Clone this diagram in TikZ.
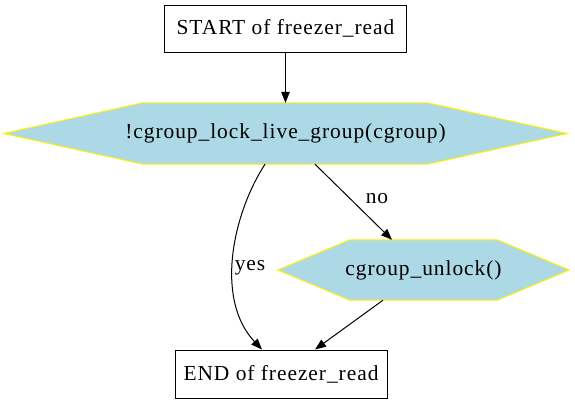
\documentclass[tikz,border=0pt]{standalone}
\usepackage{fontspec}
\setmainfont{Liberation Serif}[LetterSpace=4.5]
\usetikzlibrary{arrows.meta,backgrounds}
\definecolor{hexfill}{RGB}{173,216,230}
\begin{document}
\begin{tikzpicture}[x=1bp,y=-1bp,
  every node/.style={font=\fontsize{21.5}{25}\selectfont, inner sep=0pt},
  boxnode/.style={draw=black, line width=1bp, fill=white},
  hexnode/.style={draw=none},
  hexshape/.style={fill=hexfill, draw=yellow, line width=1bp},
  edge/.style={draw=black, line width=1bp, -{Triangle[length=11bp,width=8.5bp]}},
  lbl/.style={}]
\useasboundingbox (0,0) rectangle (575,405);
\node[boxnode, minimum width=242bp, minimum height=47bp] (start) at (285.5,28.5) {START of freezer\_read};
\node[hexnode, minimum width=563bp, minimum height=61bp] (lock) at (285.5,133.5) {!cgroup\_lock\_live\_group(cgroup)};
\node[hexnode, minimum width=291bp, minimum height=60bp] (unlock) at (423.5,270) {cgroup\_unlock()};
\node[boxnode, minimum width=212bp, minimum height=48bp] (end) at (281,374) {END of freezer\_read};
\begin{scope}[on background layer]
\fill[white] (0,0) rectangle (575,405);
\draw[hexshape] (lock.west) -- ([xshift=139bp]lock.north west) -- ([xshift=-140bp]lock.north east) -- (lock.east) -- ([xshift=-140bp]lock.south east) -- ([xshift=139bp]lock.south west) -- cycle;
\draw[hexshape] (unlock.west) -- ([xshift=72bp]unlock.north west) -- ([xshift=-72bp]unlock.north east) -- (unlock.east) -- ([xshift=-72bp]unlock.south east) -- ([xshift=72bp]unlock.south west) -- cycle;
\end{scope}
\coordinate (lockL) at ([xshift=-20.5bp]lock.south);
\coordinate (lockR) at ([xshift=29.5bp]lock.south);
\coordinate (endL) at ([xshift=-19bp]end.north);
\coordinate (endR) at ([xshift=34bp]end.north);
\coordinate (unlockB) at ([xshift=-40.5bp]unlock.south);
\coordinate (unlockT) at ([xshift=-31.5bp]unlock.north);
\draw[edge] (start.south) -- (lock.north);
\draw[edge] (lockL) .. controls (232,215) and (215,300) .. (endL);
\draw[edge] (lockR) -- (unlockT);
\draw[edge] (unlockB) -- (endR);
\node[lbl] (yes) at (250,268) {yes};
\node[lbl] (no) at (377,199) {no};
\end{tikzpicture}
\end{document}
